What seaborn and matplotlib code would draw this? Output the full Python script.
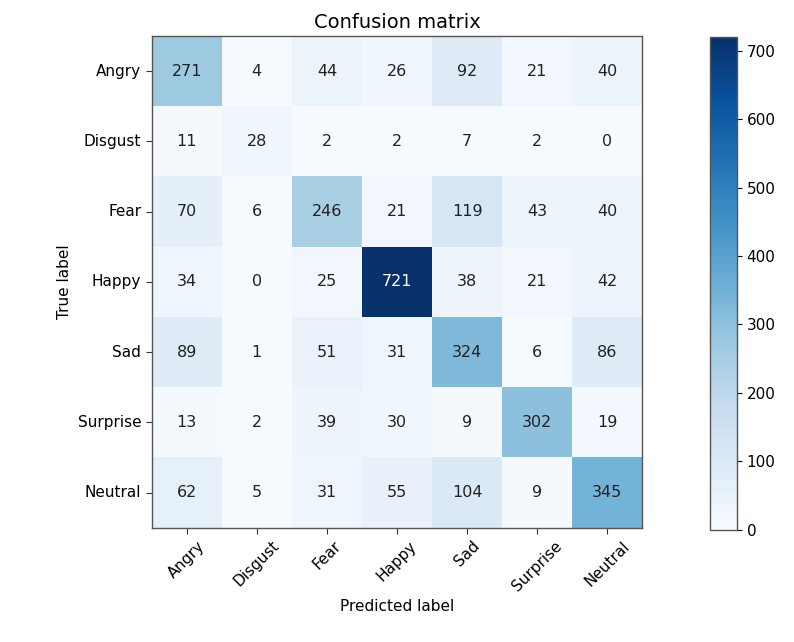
import matplotlib
matplotlib.use("Agg")
import matplotlib.pyplot as plt
import seaborn as sns
import numpy as np
import pandas as pd

classes = ["Angry", "Disgust", "Fear", "Happy", "Sad", "Surprise", "Neutral"]
row_angry = [271, 4, 44, 26, 92, 21, 40]
row_disgust = [11, 28, 2, 2, 7, 2, 0]
row_fear = [70, 6, 246, 21, 119, 43, 40]
row_happy = [34, 0, 25, 721, 38, 21, 42]
row_sad = [89, 1, 51, 31, 324, 6, 86]
row_surprise = [13, 2, 39, 30, 9, 302, 19]
row_neutral = [62, 5, 31, 55, 104, 9, 345]
cbar_ticks = [0, 100, 200, 300, 400, 500, 600, 700]

cm = np.array([row_angry, row_disgust, row_fear, row_happy, row_sad, row_surprise, row_neutral])
df = pd.DataFrame(cm, index=classes, columns=classes)

fig = plt.figure(figsize=(7.94, 6.42), dpi=100)
ax = fig.add_axes([0.191, 0.178, 0.618, 0.766])
cax = fig.add_axes([0.894, 0.175, 0.034, 0.768])

sns.heatmap(df, ax=ax, cbar_ax=cax, cmap="Blues", annot=True, fmt="d",
            vmin=0, vmax=cm.max(), annot_kws={"fontsize": 11.5},
            cbar_kws={"ticks": cbar_ticks})

thresh = cm.max() / 2.0
for t in ax.texts:
    v = int(t.get_text())
    t.set_color("white" if v > thresh else "#222222")

for s in ax.spines.values():
    s.set_visible(True)
    s.set_color("#555555")
    s.set_linewidth(1.0)
cax.tick_params(labelsize=11)
cb = ax.collections[0].colorbar
cb.outline.set_visible(True)
cb.outline.set_edgecolor("#555555")
cb.outline.set_linewidth(1.0)

ax.set_xticklabels(classes, rotation=45, ha="center", fontsize=11)
ax.set_yticklabels(classes, rotation=0, fontsize=11)
ax.tick_params(axis="both", length=4, color="#333333")
ax.set_title("Confusion matrix", fontsize=14)
ax.set_xlabel("Predicted label", fontsize=11)
ax.set_ylabel("True label", fontsize=11)

fig.savefig("out.png", dpi=100)
